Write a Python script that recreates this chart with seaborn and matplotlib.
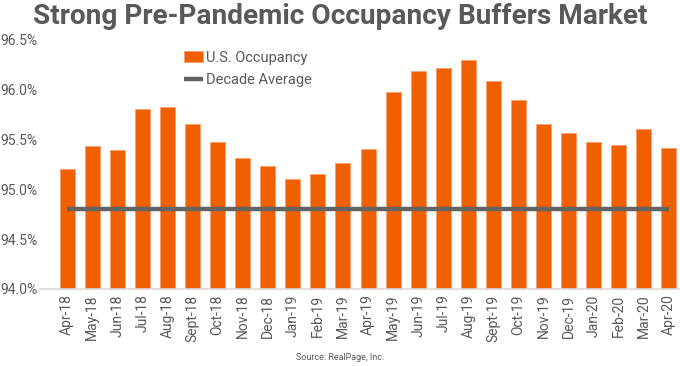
import matplotlib
matplotlib.use("Agg")
import matplotlib.pyplot as plt
import seaborn as sns
import pandas as pd
from matplotlib.ticker import FuncFormatter

months = ["Apr-18", "May-18", "Jun-18", "Jul-18", "Aug-18", "Sept-18", "Oct-18",
          "Nov-18", "Dec-18", "Jan-19", "Feb-19", "Mar-19", "Apr-19", "May-19",
          "Jun-19", "Jul-19", "Aug-19", "Sept-19", "Oct-19", "Nov-19", "Dec-19",
          "Jan-20", "Feb-20", "Mar-20", "Apr-20"]
occupancy = [95.20, 95.44, 95.40, 95.81, 95.83, 95.66, 95.48, 95.32, 95.23,
             95.10, 95.15, 95.27, 95.41, 95.98, 96.19, 96.22, 96.30, 96.09,
             95.90, 95.66, 95.57, 95.48, 95.45, 95.61, 95.42]
decade_avg = [94.80] * len(months)

ORANGE = "#F06000"
GREY = "#636363"
TEXT = "#595959"

sns.set_theme(style="white")
plt.rcParams["font.family"] = ["Roboto", "DejaVu Sans"]

df = pd.DataFrame({"month": months, "occupancy": occupancy, "avg": decade_avg})

fig = plt.figure(figsize=(6.8, 3.66), dpi=100)
ax = fig.add_axes([40 / 680, 77 / 366, 640 / 680, 249 / 366])

sns.barplot(data=df, x="month", y="occupancy", color=ORANGE, width=0.6,
            edgecolor="#F7A070", linewidth=0.6, saturation=1, ax=ax,
            label="U.S. Occupancy")
ax.plot(range(len(months)), df["avg"], color=GREY, linewidth=3.2,
        solid_capstyle="butt", label="Decade Average")

ax.set_ylim(94.0, 96.5)
ax.set_xlim(-1.08, 24.44)
ax.set_yticks([94.0, 94.5, 95.0, 95.5, 96.0, 96.5])
ax.yaxis.set_major_formatter(FuncFormatter(lambda v, p: f"{v:.1f}%"))
ax.set_xlabel("")
ax.set_ylabel("")
ax.tick_params(axis="x", rotation=90, labelsize=10, colors=TEXT, length=0, pad=4)
ax.tick_params(axis="y", labelsize=10, colors=TEXT, length=0, pad=2)
for s in ["top", "right", "left"]:
    ax.spines[s].set_visible(False)
ax.spines["bottom"].set_color("#D9D9D9")
ax.spines["bottom"].set_linewidth(1.2)

handles, labels = ax.get_legend_handles_labels()
order = [labels.index("U.S. Occupancy"), labels.index("Decade Average")]
ax.legend([handles[i] for i in order], [labels[i] for i in order],
          loc="upper left", bbox_to_anchor=(0.205, 1.01), frameon=False,
          fontsize=10.5, handlelength=1.3, handletextpad=0.2,
          labelspacing=0.6, labelcolor=TEXT)

fig.text(0.5, 0.955, "Strong Pre-Pandemic Occupancy Buffers Market",
         ha="center", va="center", fontsize=20.2, fontweight="bold", color=TEXT)
fig.text(0.5, 0.022, "Source: RealPage, Inc.", ha="center", va="center",
         fontsize=6.5, color=TEXT)

fig.savefig("out.png", dpi=100)
